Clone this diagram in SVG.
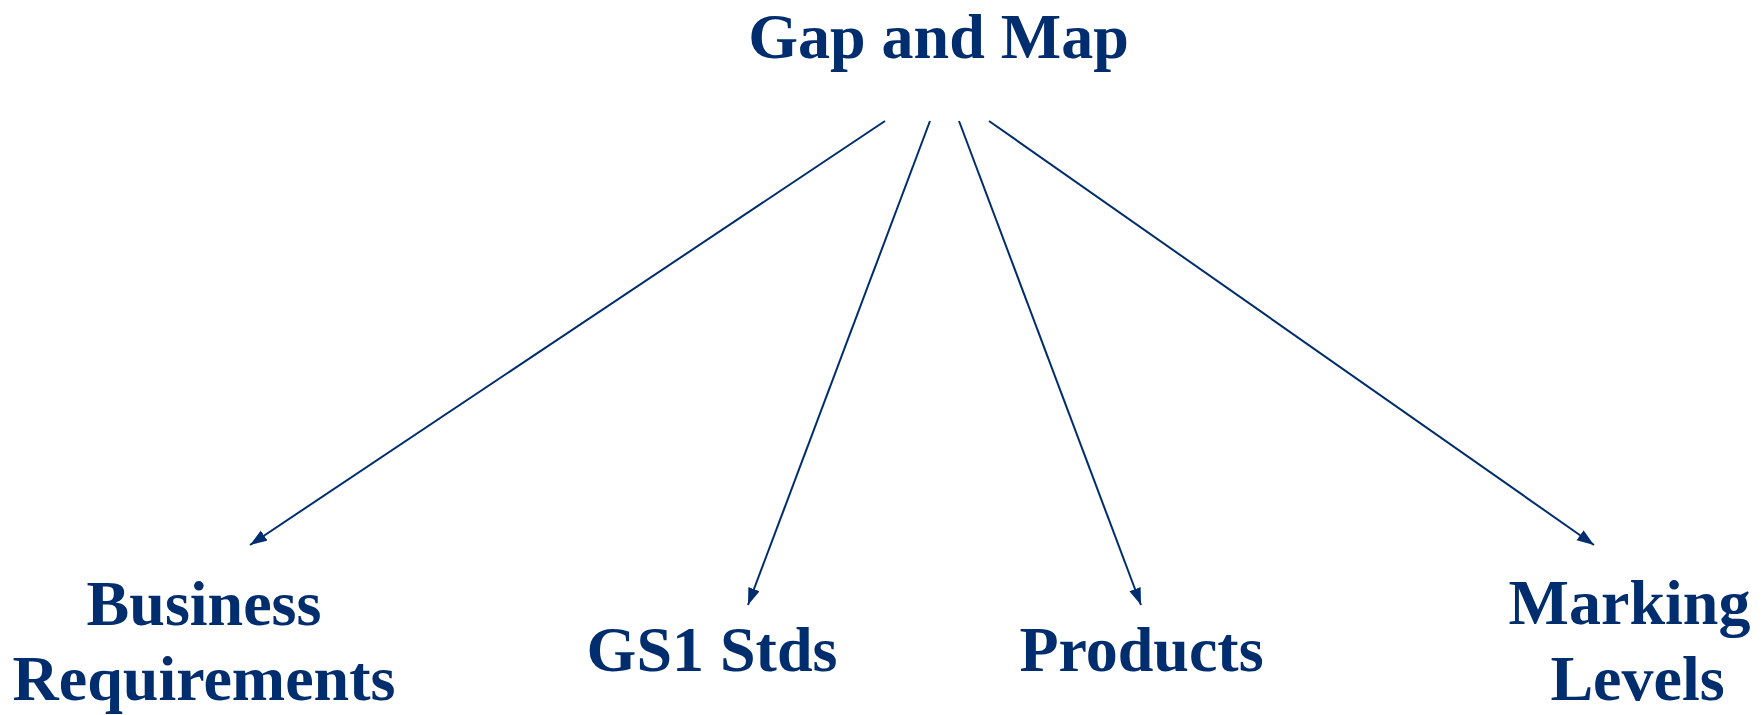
<svg xmlns="http://www.w3.org/2000/svg" width="1764" height="715" viewBox="0 0 1764 715">
<style>
.lbl{font-family:"Liberation Serif","Times New Roman",serif;font-weight:bold;font-size:64px;fill:#002D6E;text-anchor:middle}
.edge{stroke:#002D6E;stroke-width:2;fill:none}
</style>
<defs>
<marker id="arr" markerUnits="userSpaceOnUse" markerWidth="20" markerHeight="14" refX="17" refY="6" orient="auto">
<path d="M0,0 L17,6 L0,12 Z" fill="#002D6E"/>
</marker>
</defs>
<rect width="1764" height="715" fill="#fff"/>
<g id="connectors">
<line class="edge" x1="885" y1="121" x2="250" y2="545" marker-end="url(#arr)"/>
<line class="edge" x1="930" y1="121" x2="748" y2="605" marker-end="url(#arr)"/>
<line class="edge" x1="959" y1="121" x2="1141" y2="605" marker-end="url(#arr)"/>
<line class="edge" x1="989" y1="121" x2="1594" y2="545" marker-end="url(#arr)"/>
</g>
<g id="gap-and-map"><text class="lbl" x="938.5" y="58">Gap and Map</text></g>
<g id="business-requirements"><text class="lbl" x="204" y="625">Business</text><text class="lbl" x="204" y="700">Requirements</text></g>
<g id="gs1-stds"><text class="lbl" x="712" y="671">GS1 Stds</text></g>
<g id="products"><text class="lbl" x="1141.5" y="671">Products</text></g>
<g id="marking-levels"><text class="lbl" x="1629.5" y="624">Marking</text><text class="lbl" x="1637.5" y="700">Levels</text></g>
</svg>
